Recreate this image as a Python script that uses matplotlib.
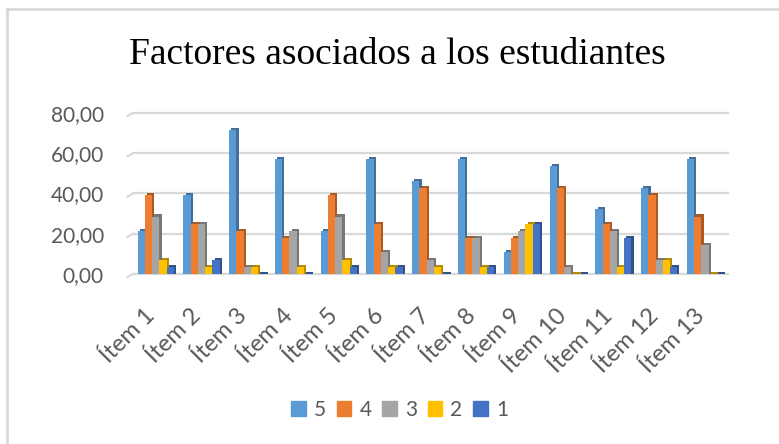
import numpy as np
import matplotlib
matplotlib.use("Agg")
import matplotlib.pyplot as plt
from matplotlib.patches import Patch
from matplotlib.lines import Line2D
from matplotlib.colors import to_rgb

plt.rcParams['font.family'] = ['Lato', 'DejaVu Sans']

# datos (porcentajes, n = 28)
items = [f"Ítem {i}" for i in range(1, 14)]
series = ["5", "4", "3", "2", "1"]
v5 = [21.43, 39.29, 71.43, 57.14, 21.43, 57.14, 46.43, 57.14, 10.71, 53.57, 32.14, 42.86, 57.14]
v4 = [39.29, 25.00, 21.43, 17.86, 39.29, 25.00, 42.86, 17.86, 17.86, 42.86, 25.00, 39.29, 28.57]
v3 = [28.57, 25.00, 3.57, 21.43, 28.57, 10.71, 7.14, 17.86, 21.43, 3.57, 21.43, 7.14, 14.29]
v2 = [7.14, 3.57, 3.57, 3.57, 7.14, 3.57, 3.57, 3.57, 25.00, 0.00, 3.57, 7.14, 0.00]
v1 = [3.57, 7.14, 0.00, 0.00, 3.57, 3.57, 0.00, 3.57, 25.00, 0.00, 17.86, 3.57, 0.00]
yticks = [0, 20, 40, 60, 80]

colores = ["#5B9BD5", "#ED7D31", "#A5A5A5", "#FFC000", "#4472C4"]
gris = "#595959"

fig = plt.figure(figsize=(7.79, 4.44), dpi=100)
ax = fig.add_axes([133 / 779, 1 - 274 / 444, 595 / 779, 161 / 444])

x = np.arange(len(items))
ancho = 0.158
dx, dy = 0.05, 1.0
valores = [v5, v4, v3, v2, v1]
for k, (vals, col) in enumerate(zip(valores, colores)):
    pos = x - 0.4 + ancho * k + ancho / 2
    oscuro = tuple(c * 0.72 for c in to_rgb(col))
    ax.bar(pos + dx, np.array(vals) + dy, width=ancho, bottom=0,
           color=oscuro, zorder=2 + k * 2, linewidth=0)
    ax.bar(pos, vals, width=ancho, color=col, zorder=3 + k * 2, linewidth=0)

ax.set_xlim(-0.5, len(items) - 0.5)
ax.set_ylim(0, 80)
ax.set_yticks(yticks)
ax.set_yticklabels([f"{v:.2f}".replace(".", ",") for v in yticks])
for v in yticks:
    ax.axhline(v, color="#D9D9D9", lw=1.6, zorder=1, clip_on=False)
    ax.plot([-0.62, -0.5], [v - 1.5, v], color="#D9D9D9", lw=1.6,
            clip_on=False, zorder=1)
for s in ax.spines.values():
    s.set_visible(False)
ax.tick_params(axis="both", length=0, colors=gris)
ax.tick_params(axis="y", pad=21, labelsize=15)
ax.set_xticks(x - 0.26)
ax.set_xticklabels(items, rotation=45, ha="right", va="top",
                   rotation_mode="anchor")
ax.tick_params(axis="x", pad=22, labelsize=17)

fig.text(0.51, 1 - 55 / 444, "Factores asociados a los estudiantes",
         ha="center", va="center", fontsize=27,
         family=["Liberation Serif", "DejaVu Serif"], color="black")

handles = [Patch(color=c, label=s) for s, c in zip(series, colores)]
fig.legend(handles=handles, loc="center", bbox_to_anchor=(0.513, 1 - 410 / 444),
           ncol=5, frameon=False, fontsize=15, handlelength=0.7,
           handleheight=0.7, handletextpad=0.4, columnspacing=0.5,
           labelcolor=gris)

# marco del gráfico
fig.add_artist(Line2D([6.5 / 779, 6.5 / 779], [0, 1 - 9.5 / 444],
                      color="#D9D9D9", lw=2, transform=fig.transFigure))
fig.add_artist(Line2D([6.5 / 779, 1], [1 - 9.5 / 444, 1 - 9.5 / 444],
                      color="#D9D9D9", lw=2, transform=fig.transFigure))

fig.savefig("out.png", dpi=100)
